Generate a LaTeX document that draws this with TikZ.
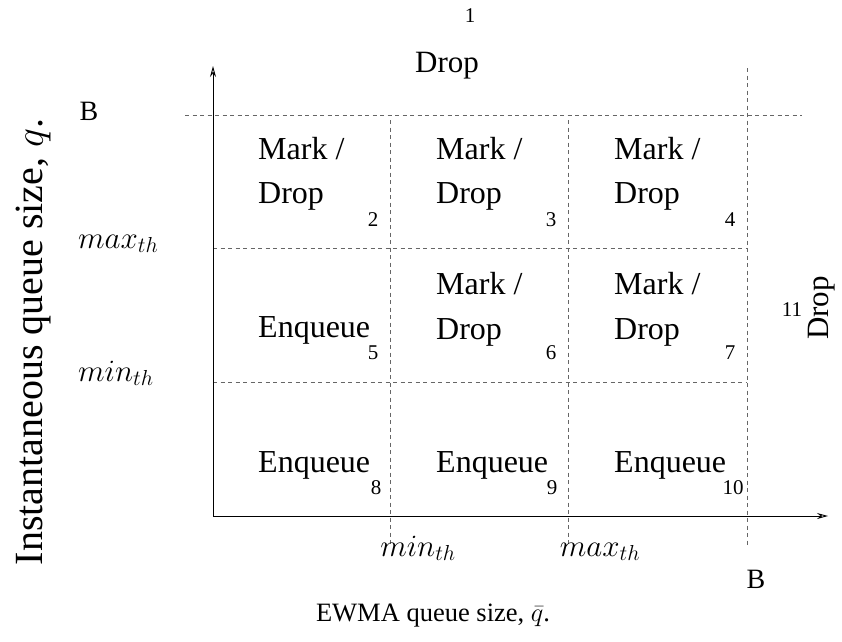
\RequirePackage{fix-cm}
\documentclass[tikz,border=0pt]{standalone}
\usepackage{fontspec}
\setmainfont{Liberation Serif}
\usetikzlibrary{arrows.meta}
\begin{document}
\begin{tikzpicture}[x=1pt,y=-1pt,
  axis/.style={line width=0.9pt,-{Stealth[open,length=11pt,width=6pt]}},
  grid/.style={line width=0.9pt,gray!80!black,dash pattern=on 4pt off 3.5pt},
  big/.style={font=\fontsize{31}{36}\selectfont,inner sep=0pt},
  cell/.style={font=\fontsize{32}{36}\selectfont,inner sep=0pt,anchor=base west},
  mth/.style={font=\fontsize{31}{36}\selectfont,inner sep=0pt},
  bl/.style={font=\fontsize{28}{32}\selectfont,inner sep=0pt,anchor=base},
  num/.style={font=\fontsize{21}{24}\selectfont,inner sep=0pt,anchor=base}]
\useasboundingbox (0,0) rectangle (842,641);
% axis endpoints
\coordinate (O) at (213,516);
\coordinate (ytop) at (213,66);
\coordinate (xend) at (828,516);
% grid coordinates
\coordinate (hBl) at (185,115); \coordinate (hBr) at (802,115);
\coordinate (hMl) at (213,248); \coordinate (hMr) at (747,248);
\coordinate (hNl) at (213,382); \coordinate (hNr) at (747,382);
\coordinate (v1t) at (390,120); \coordinate (v1b) at (390,545);
\coordinate (v2t) at (568,120); \coordinate (v2b) at (568,545);
\coordinate (v3t) at (747,68);  \coordinate (v3b) at (747,545);
\draw[grid] (hBl) -- (hBr);
\draw[grid] (hMl) -- (hMr);
\draw[grid] (hNl) -- (hNr);
\draw[grid] (v1t) -- (v1b);
\draw[grid] (v2t) -- (v2b);
\draw[grid] (v3t) -- (v3b);
\draw[axis] (O) -- (ytop);
\draw[axis] (O) -- (xend);
% top labels
\node[num] (n1) at (470,22) {1};
\node[big,anchor=base] (dropTop) at (447,72) {Drop};
% y-axis labels
\node[bl] (By) at (89,120) {B};
\node[mth,anchor=base west] (maxy) at (78,248) {$max_{th}$};
\node[mth,anchor=base west] (miny) at (78,381) {$min_{th}$};
\node[font=\fontsize{40}{44}\selectfont,inner sep=0pt,rotate=90,anchor=center] (ylab) at (34,342) {Instantaneous queue size, $q$.};
% x-axis labels
\node[mth,anchor=base] (minx) at (418,556) {$min_{th}$};
\node[mth,anchor=base] (maxx) at (600,556) {$max_{th}$};
\node[bl] (Bx) at (756,588) {B};
\node[font=\fontsize{26.5}{30}\selectfont,inner sep=0pt,anchor=base] (xlab) at (433,621) {EWMA queue size, $\bar{q}$.};
% row 1
\node[cell] (m2) at (258,159) {Mark /};
\node[cell] (d2) at (258,203) {Drop};
\node[num] (n2) at (373,226) {2};
\node[cell] (m3) at (436,159) {Mark /};
\node[cell] (d3) at (436,203) {Drop};
\node[num] (n3) at (551,226) {3};
\node[cell] (m4) at (614,159) {Mark /};
\node[cell] (d4) at (614,203) {Drop};
\node[num] (n4) at (730,226) {4};
% row 2
\node[cell] (e5) at (258,337) {Enqueue};
\node[num] (n5) at (373,359) {5};
\node[cell] (m6) at (436,294) {Mark /};
\node[cell] (d6) at (436,339) {Drop};
\node[num] (n6) at (551,359) {6};
\node[cell] (m7) at (614,294) {Mark /};
\node[cell] (d7) at (614,339) {Drop};
\node[num] (n7) at (730,359) {7};
% row 3
\node[cell] (e8) at (258,472) {Enqueue};
\node[num] (n8) at (376,494) {8};
\node[cell] (e9) at (436,472) {Enqueue};
\node[num] (n9) at (552,494) {9};
\node[cell] (e10) at (614,472) {Enqueue};
\node[num] (n10) at (733,494) {10};
% right
\node[num] (n11) at (792,316) {11};
\node[big,rotate=90,anchor=center] (dropR) at (822,308) {Drop};
\end{tikzpicture}
\end{document}
